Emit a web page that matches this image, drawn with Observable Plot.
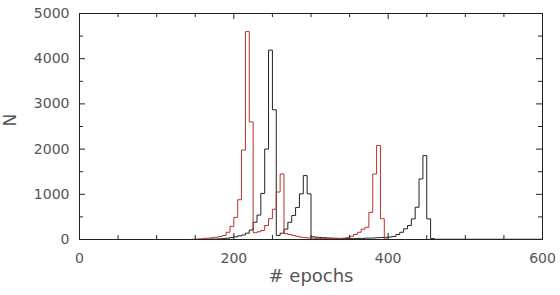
<!DOCTYPE html>
<html>
<head>
<meta charset="utf-8">
<script src="https://cdn.jsdelivr.net/npm/d3@7"></script>
<script src="https://cdn.jsdelivr.net/npm/@observablehq/plot@0.6"></script>
<style>
  html, body { margin: 0; padding: 0; background: #fff; }
</style>
</head>
<body>
<div id="chart"></div>
<script>
// Histogram bin starts (epochs) and counts, red series
const redBins = [0, 145, 150, 155, 160, 165, 170, 175, 180, 185, 190, 195, 200, 205, 210, 215, 220, 225, 230, 235, 240, 245, 250, 255, 260, 265, 270, 275, 280, 285, 290, 295, 300, 305, 310, 315, 320, 325, 330, 335, 340, 345, 350, 355, 360, 365, 370, 375, 380, 385, 390, 395, 400, 600];
const redCounts = [0, 5, 10, 15, 25, 30, 40, 50, 66, 88, 160, 290, 490, 880, 1980, 4600, 2600, 150, 170, 200, 310, 460, 670, 1050, 1450, 130, 110, 90, 70, 50, 40, 35, 30, 25, 20, 20, 20, 20, 25, 25, 30, 40, 70, 110, 160, 230, 270, 600, 1450, 2080, 460, 10, 0, 0];

// Black series
const blackBins = [0, 165, 170, 175, 180, 185, 190, 195, 200, 205, 210, 215, 220, 225, 230, 235, 240, 245, 250, 255, 260, 265, 270, 275, 280, 285, 290, 295, 300, 305, 310, 315, 320, 325, 330, 335, 340, 345, 350, 355, 360, 365, 370, 375, 380, 385, 390, 395, 400, 405, 410, 415, 420, 425, 430, 435, 440, 445, 450, 455, 460, 600];
const blackCounts = [0, 5, 10, 10, 15, 20, 30, 45, 60, 80, 100, 140, 210, 380, 540, 1020, 2000, 4190, 2870, 90, 140, 230, 380, 530, 710, 1010, 1414, 1010, 60, 50, 45, 40, 35, 30, 25, 20, 20, 20, 20, 20, 25, 25, 30, 30, 35, 40, 45, 50, 55, 66, 110, 160, 236, 309, 457, 714, 1340, 1856, 457, 20, 5, 0];

// Axis ticks
const xMinorTicks = [0, 50, 100, 150, 200, 250, 300, 350, 400, 450, 500, 550, 600];
const xMajorTicks = [0, 200, 400, 600];
const yMinorTicks = [0, 500, 1000, 1500, 2000, 2500, 3000, 3500, 4000, 4500, 5000];
const yMajorTicks = [0, 1000, 2000, 3000, 4000, 5000];

const red = redBins.map((b, i) => ({x: b, y: redCounts[i]}));
const black = blackBins.map((b, i) => ({x: b, y: blackCounts[i]}));

const W = 560, H = 295, mL = 79, mR = 18, mT = 13, mB = 56;
const innerW = W - mL - mR, innerH = H - mT - mB;
const minorLen = 4, majorLen = 6;
const tickColor = "#222";
const textColor = "#555";

const chart = Plot.plot({
  width: W,
  height: H,
  marginLeft: mL,
  marginRight: mR,
  marginTop: mT,
  marginBottom: mB,
  style: {fontFamily: "DejaVu Sans", fontSize: "14px", color: textColor, background: "#fff"},
  x: {domain: [0, 600], axis: null},
  y: {domain: [0, 5000], axis: null},
  marks: [
    Plot.line(black, {x: "x", y: "y", curve: "step-after", stroke: "#222", strokeWidth: 1}),
    Plot.line(red, {x: "x", y: "y", curve: "step-after", stroke: "#b8312f", strokeWidth: 1}),
    // inward ticks: bottom & top
    Plot.tickX(xMinorTicks.filter(t => !xMajorTicks.includes(t)), {x: d => d, insetTop: innerH - minorLen, stroke: tickColor}),
    Plot.tickX(xMinorTicks.filter(t => !xMajorTicks.includes(t)), {x: d => d, insetBottom: innerH - minorLen, stroke: tickColor}),
    Plot.tickX(xMajorTicks, {x: d => d, insetTop: innerH - majorLen, stroke: tickColor}),
    Plot.tickX(xMajorTicks, {x: d => d, insetBottom: innerH - majorLen, stroke: tickColor}),
    // inward ticks: left & right
    Plot.tickY(yMinorTicks.filter(t => !yMajorTicks.includes(t)), {y: d => d, insetRight: innerW - minorLen, stroke: tickColor}),
    Plot.tickY(yMinorTicks.filter(t => !yMajorTicks.includes(t)), {y: d => d, insetLeft: innerW - minorLen, stroke: tickColor}),
    Plot.tickY(yMajorTicks, {y: d => d, insetRight: innerW - majorLen, stroke: tickColor}),
    Plot.tickY(yMajorTicks, {y: d => d, insetLeft: innerW - majorLen, stroke: tickColor}),
    Plot.frame({stroke: "#222", strokeWidth: 1}),
    // tick labels
    Plot.axisX(xMajorTicks, {anchor: "bottom", tickSize: 0, tickPadding: 14, label: null, fontSize: 14, fill: textColor, tickFormat: d3.format("d")}),
    Plot.axisY(yMajorTicks, {anchor: "left", tickSize: 0, tickPadding: 10, label: null, fontSize: 14, fill: textColor, tickFormat: d3.format("d")}),
    // axis titles
    Plot.text(["# epochs"], {frameAnchor: "bottom", dy: 42, fontSize: 18, fill: textColor}),
    Plot.text(["N"], {frameAnchor: "left", dx: -69, rotate: -90, fontSize: 17, fill: textColor})
  ]
});
document.getElementById("chart").appendChild(chart);
</script>
</body>
</html>
